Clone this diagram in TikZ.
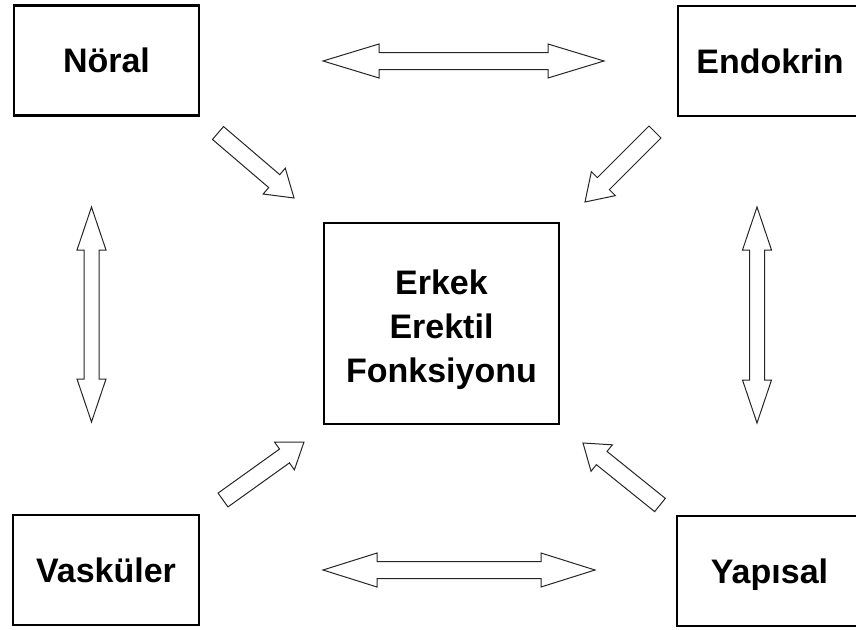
\documentclass[tikz,border=0pt]{standalone}
\usepackage{fontspec}
\setmainfont{Liberation Sans}
\usepackage{tikz}
\usetikzlibrary{calc}
\definecolor{black}{rgb}{0,0,0}
\newcommand{\onewayarrow}[5]{%
    \coordinate (hb) at ($(#2)!#5!(#1)$);
    \draw [blockarrow] ($(#1)!#3!90:(#2)$) -- ($(hb)!#3!-90:(#1)$) -- ($(hb)!#4!-90:(#1)$) -- (#2)
        -- ($(hb)!#4!90:(#1)$) -- ($(hb)!#3!90:(#1)$) -- ($(#1)!#3!-90:(#2)$) -- cycle;
}
\newcommand{\twowayarrow}[5]{%
    \coordinate (ha) at ($(#1)!#5!(#2)$);
    \coordinate (hb) at ($(#2)!#5!(#1)$);
    \draw [blockarrow] (#1) -- ($(ha)!#4!90:(#2)$) -- ($(ha)!#3!90:(#2)$) -- ($(hb)!#3!-90:(#1)$)
        -- ($(hb)!#4!-90:(#1)$) -- (#2) -- ($(hb)!#4!90:(#1)$) -- ($(hb)!#3!90:(#1)$)
        -- ($(ha)!#3!-90:(#2)$) -- ($(ha)!#4!-90:(#2)$) -- cycle;
}

\begin{document}
\begin{tikzpicture}[x=1pt,y=-1pt]
    \def\sw{8.5pt}
    \def\hw{17pt}
    \def\vsw{7.5pt}
    \def\vhw{14.5pt}

    \clip (0,0) rectangle (856,629);

    \tikzstyle{side}=[draw=black,line width=2.2pt,minimum height=110pt,align=center,text height=24pt,text depth=0pt,font=\bfseries\fontsize{34}{40}\selectfont]
    \tikzstyle{core}=[draw=black,line width=2.4pt,minimum width=235pt,minimum height=201pt,align=center,font=\bfseries\fontsize{34}{44}\selectfont]
    \tikzstyle{blockarrow}=[draw=black!85,line width=1pt,fill=white,line join=miter]

    \node[side,minimum width=185pt] (noral) at (106.5,60.5) {Nöral};
    \node[side,minimum width=184pt] (endokrin) at (770,61) {Endokrin};
    \node[side,minimum width=186pt] (vaskuler) at (106,570) {Vasküler};
    \node[side,minimum width=185pt] (yapisal) at (769.5,571) {Yapısal};

    \node[core] (eef) at (441.5,323.5) {\rule{0pt}{37pt}Erkek\\Erektil\\Fonksiyonu};

    % ends of the block arrows
    \coordinate (top1) at (323,61);
    \coordinate (top2) at (604,61);
    \coordinate (bot1) at (323,570);
    \coordinate (bot2) at (595,570);
    \coordinate (lft1) at (91.5,207);
    \coordinate (lft2) at (91.5,422);
    \coordinate (rgt1) at (757,207);
    \coordinate (rgt2) at (757,423);

    \coordinate (nt) at (218,133);
    \coordinate (nh) at (294,198);
    \coordinate (et) at (655,132);
    \coordinate (eh) at (585,202);
    \coordinate (vt) at (223,500);
    \coordinate (vh) at (304,442);
    \coordinate (yt) at (660,505);
    \coordinate (yh) at (583,443);

    \twowayarrow{top1}{top2}{\sw}{\hw}{56pt}
    \twowayarrow{bot1}{bot2}{\sw}{\hw}{54pt}
    \twowayarrow{lft1}{lft2}{\vsw}{\vhw}{43pt}
    \twowayarrow{rgt1}{rgt2}{\vsw}{\vhw}{43pt}

    \onewayarrow{nt}{nh}{\sw}{\hw}{26pt}
    \onewayarrow{et}{eh}{\sw}{\hw}{26pt}
    \onewayarrow{vt}{vh}{\sw}{\hw}{24pt}
    \onewayarrow{yt}{yh}{\sw}{\hw}{24pt}

\end{tikzpicture}
\end{document}
